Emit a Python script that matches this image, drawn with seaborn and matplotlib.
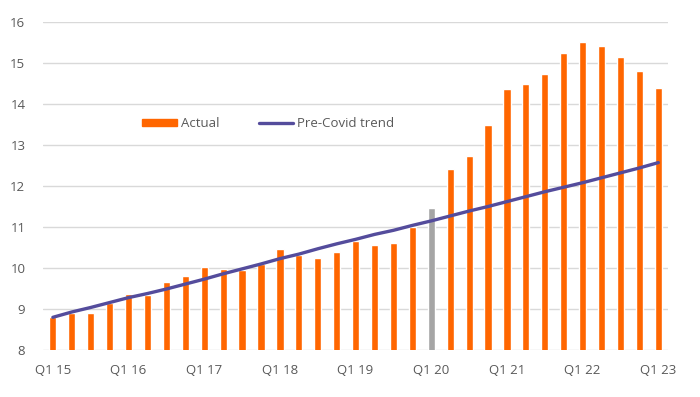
import numpy as np
import pandas as pd
import seaborn as sns
import matplotlib.pyplot as plt
from matplotlib.lines import Line2D
from matplotlib.patches import Patch

# quarterly values, Q1 15 .. Q1 23
years = [str(y) for y in range(15, 24)]
quarters = [f"Q{q} {y}" for y in years for q in range(1, 5)][:33]

actual = [8.81, 8.90, 8.91, 9.14, 9.38, 9.34, 9.65, 9.81,
          10.03, 9.98, 9.95, 10.11, 10.46, 10.32, 10.24, 10.40,
          10.66, 10.56, 10.60, 11.01, 11.47, 12.41, 12.74, 13.49,
          14.36, 14.49, 14.72, 15.24, 15.50, 15.40, 15.14, 14.81,
          14.39]

trend = [8.80, 8.93, 9.04, 9.16, 9.28, 9.38, 9.49, 9.61,
         9.73, 9.86, 9.98, 10.10, 10.23, 10.34, 10.47, 10.59,
         10.70, 10.82, 10.92, 11.04, 11.15, 11.27, 11.39, 11.50,
         11.62, 11.74, 11.86, 11.97, 12.08, 12.20, 12.32, 12.44,
         12.57]

ORANGE = "#FF6600"
GREY = "#A5A5A5"
PURPLE = "#544C9C"
TEXT = "#595959"

df = pd.DataFrame({"quarter": quarters, "actual": actual, "trend": trend})
colors = [GREY if q == "Q1 20" else ORANGE for q in quarters]

sns.set_theme(style="white")
plt.rcParams['font.family'] = ['Open Sans', 'DejaVu Sans']

fig = plt.figure(figsize=(7, 3.97), dpi=100)
ax = fig.add_axes([0.062, 0.118, 0.892, 0.827])

sns.barplot(data=df, x="quarter", y="actual", hue="quarter", palette=colors,
            legend=False, width=0.38, saturation=1, ax=ax)
sns.lineplot(x=np.arange(len(trend)), y=df["trend"], color=PURPLE,
             linewidth=2.4, ax=ax)

ax.set_ylim(8, 16)
ax.set_xlim(-0.5, len(quarters) - 0.5)
ax.set_yticks(range(8, 17))
ax.set_yticklabels([str(v) for v in range(8, 17)], color=TEXT, fontsize=9.5)
ticks = list(range(0, len(quarters), 4))
ax.set_xticks(ticks)
ax.set_xticklabels([quarters[i] for i in ticks], color=TEXT, fontsize=9.5)
ax.tick_params(axis="x", length=0, pad=10)
ax.tick_params(axis="y", length=0, pad=13)
ax.set_xlabel("")
ax.set_ylabel("")
ax.yaxis.grid(True, color="#D9D9D9", linewidth=1)
ax.set_axisbelow(True)
for s in ax.spines.values():
    s.set_visible(False)

handles = [Patch(color=ORANGE, label="Actual"),
           Line2D([0], [0], color=PURPLE, linewidth=2.4, label="Pre-Covid trend")]
leg = ax.legend(handles=handles, loc="center", bbox_to_anchor=(0.36, 0.69),
                ncol=2, frameon=False, fontsize=9.5, handlelength=2.6,
                handleheight=0.5, columnspacing=3, handletextpad=0.3)
for t in leg.get_texts():
    t.set_color(TEXT)

fig.savefig("out.png", dpi=100)
